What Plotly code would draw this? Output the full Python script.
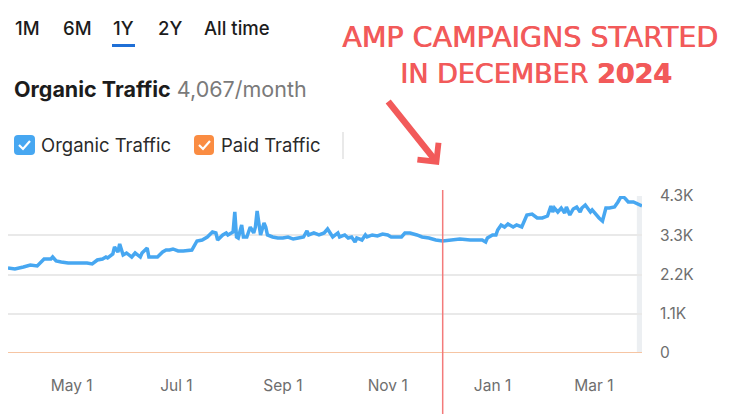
import plotly.graph_objects as go

# ---------------- data ----------------
dates = [
    "2024-03-25", "2024-03-29", "2024-04-03", "2024-04-07", "2024-04-11", "2024-04-13",
    "2024-04-15", "2024-04-17", "2024-04-19", "2024-04-20", "2024-04-22", "2024-04-25",
    "2024-04-29", "2024-05-04", "2024-05-10", "2024-05-13", "2024-05-16", "2024-05-19",
    "2024-05-21", "2024-05-22", "2024-05-25", "2024-05-26", "2024-05-28", "2024-05-29",
    "2024-05-31", "2024-06-02", "2024-06-05", "2024-06-07", "2024-06-10", "2024-06-11",
    "2024-06-14", "2024-06-15", "2024-06-20", "2024-06-23", "2024-06-25", "2024-06-27",
    "2024-06-29", "2024-07-02", "2024-07-05", "2024-07-10", "2024-07-12", "2024-07-13",
    "2024-07-16", "2024-07-19", "2024-07-22", "2024-07-24", "2024-07-25", "2024-07-28",
    "2024-07-30", "2024-07-31", "2024-08-03", "2024-08-04", "2024-08-05", "2024-08-06",
    "2024-08-08", "2024-08-09", "2024-08-11", "2024-08-13", "2024-08-15", "2024-08-16",
    "2024-08-17", "2024-08-19", "2024-08-21", "2024-08-22", "2024-08-23", "2024-08-26",
    "2024-08-29", "2024-09-01", "2024-09-04", "2024-09-07", "2024-09-10", "2024-09-13",
    "2024-09-15", "2024-09-16", "2024-09-19", "2024-09-22", "2024-09-25", "2024-09-27",
    "2024-09-30", "2024-10-03", "2024-10-04", "2024-10-07", "2024-10-09", "2024-10-11",
    "2024-10-13", "2024-10-14", "2024-10-17", "2024-10-19", "2024-10-20", "2024-10-23",
    "2024-10-26", "2024-10-29", "2024-11-01", "2024-11-03", "2024-11-06", "2024-11-09",
    "2024-11-11", "2024-11-14", "2024-11-18", "2024-11-21", "2024-11-25", "2024-11-29",
    "2024-12-03", "2024-12-07", "2024-12-13", "2024-12-19", "2024-12-23", "2024-12-26",
    "2024-12-28", "2024-12-29", "2025-01-01", "2025-01-03", "2025-01-04", "2025-01-06",
    "2025-01-08", "2025-01-10", "2025-01-13", "2025-01-15", "2025-01-18", "2025-01-20",
    "2025-01-21", "2025-01-24", "2025-01-27", "2025-01-30", "2025-02-02", "2025-02-04",
    "2025-02-05", "2025-02-06", "2025-02-08", "2025-02-10", "2025-02-12", "2025-02-13",
    "2025-02-15", "2025-02-17", "2025-02-19", "2025-02-21", "2025-02-22", "2025-02-24",
    "2025-02-27", "2025-02-28", "2025-03-03", "2025-03-04", "2025-03-06", "2025-03-08",
    "2025-03-10", "2025-03-13", "2025-03-15", "2025-03-17", "2025-03-19", "2025-03-21",
    "2025-03-24", "2025-03-26", "2025-03-29",
]
organic = [
    2328, 2301, 2356, 2410, 2383, 2465,
    2575, 2575, 2575, 2629, 2520, 2492,
    2465, 2465, 2465, 2438, 2547, 2575,
    2629, 2602, 2712, 2903, 2766, 2986,
    2684, 2739, 2629, 2739, 2629, 2739,
    2876, 2629, 2629, 2766, 2821, 2821,
    2849, 2794, 2794, 2821, 2958, 3068,
    3095, 3177, 3314, 3287, 3095, 3232,
    3287, 3232, 3314, 3862, 3177, 3150,
    3506, 3177, 3177, 3451, 3287, 3451,
    3889, 3232, 3561, 3451, 3232, 3177,
    3150, 3150, 3177, 3122, 3150, 3177,
    3342, 3232, 3287, 3232, 3287, 3396,
    3177, 3287, 3177, 3232, 3150, 3177,
    3040, 3150, 3095, 3232, 3177, 3232,
    3205, 3259, 3232, 3177, 3177, 3177,
    3287, 3287, 3232, 3177, 3150, 3095,
    3068, 3095, 3122, 3095, 3095, 3095,
    3040, 3150, 3232, 3232, 3369, 3506,
    3451, 3533, 3451, 3506, 3451, 3698,
    3780, 3807, 3698, 3698, 3752, 4026,
    3862, 3971, 3862, 3971, 3835, 3999,
    3780, 3944, 3999, 3862, 3971, 4054,
    3862, 3917, 3725, 3698, 3615, 3971,
    3971, 3999, 4136, 4300, 4245, 4136,
    4136, 4081, 4026,
]
paid = [0 for _ in dates]

x_range = ["2024-03-25", "2025-03-29"]
y_range = [0, 4300]
x_tick_vals = ["2024-05-01", "2024-07-01", "2024-09-01", "2024-11-01", "2025-01-01", "2025-03-01"]
x_tick_text = ["May 1", "Jul 1", "Sep 1", "Nov 1", "Jan 1", "Mar 1"]
y_tick_vals = [0, 1075, 2150, 3225, 4300]
y_tick_text = ["0", "1.1K", "2.2K", "3.3K", "4.3K"]
campaign_start = "2024-12-03"
partial_start = "2025-03-26"
period_buttons = ["1M", "6M", "1Y", "2Y", "All time"]

# ---------------- layout geometry (pixels) ----------------
W_FIG, H_FIG = 730, 414
L, R, T, B = 8, 642, 196, 353


def px(x):
    return (x - L) / (R - L)


def py(y):
    return (B - y) / (B - T)


def rrect(x0, y0, x1, y1, r):
    pts = [
        f"M {px(x0 + r)},{py(y0)}",
        f"L {px(x1 - r)},{py(y0)}",
        f"Q {px(x1)},{py(y0)} {px(x1)},{py(y0 + r)}",
        f"L {px(x1)},{py(y1 - r)}",
        f"Q {px(x1)},{py(y1)} {px(x1 - r)},{py(y1)}",
        f"L {px(x0 + r)},{py(y1)}",
        f"Q {px(x0)},{py(y1)} {px(x0)},{py(y1 - r)}",
        f"L {px(x0)},{py(y0 + r)}",
        f"Q {px(x0)},{py(y0)} {px(x0 + r)},{py(y0)} Z",
    ]
    return " ".join(pts)


def check(x0, y0):
    return (f"M {px(x0 + 5)},{py(y0 + 10)} L {px(x0 + 9)},{py(y0 + 14)} "
            f"L {px(x0 + 16)},{py(y0 + 6)}")


BLUE = "#47a7f1"
ORANGE = "#fa8c42"
RED = "#f25a5a"
UI_FONT = "Inter"

fig = go.Figure()
fig.add_trace(go.Scatter(x=dates, y=paid, mode="lines", name="Paid Traffic",
                         line=dict(color="#f6c5a3", width=2), cliponaxis=False,
                         hoverinfo="skip"))
fig.add_trace(go.Scatter(x=dates, y=organic, mode="lines", name="Organic Traffic",
                         line=dict(color=BLUE, width=3.5, shape="linear"),
                         cliponaxis=False))

shapes = []
shapes.append(dict(type="rect", xref="x", yref="y", x0=partial_start, x1=x_range[1],
                   y0=0, y1=y_range[1], fillcolor="#eceff2", line=dict(width=0),
                   layer="below"))
shapes.append(dict(type="line", xref="x", yref="paper", x0=campaign_start, x1=campaign_start,
                   y0=py(416), y1=py(190), line=dict(color="#f37a7a", width=1.5)))
shapes.append(dict(type="rect", xref="paper", yref="paper", x0=px(112), x1=px(135),
                   y0=py(47), y1=py(44), fillcolor="#1f6fd6", line=dict(width=0)))
shapes.append(dict(type="path", xref="paper", yref="paper", path=rrect(14, 135, 35, 155, 4),
                   fillcolor=BLUE, line=dict(width=0)))
shapes.append(dict(type="path", xref="paper", yref="paper", path=check(14, 135),
                   line=dict(color="white", width=2.2)))
shapes.append(dict(type="path", xref="paper", yref="paper", path=rrect(194, 135, 214, 155, 4),
                   fillcolor=ORANGE, line=dict(width=0)))
shapes.append(dict(type="path", xref="paper", yref="paper", path=check(194, 135),
                   line=dict(color="white", width=2.2)))
shapes.append(dict(type="line", xref="paper", yref="paper", x0=px(343), x1=px(343),
                   y0=py(159), y1=py(132), line=dict(color="#dadada", width=1.2)))

annotations = []
btn_x = [14, 62, 112, 157, 203]
for label, xx in zip(period_buttons, btn_x):
    annotations.append(dict(xref="paper", yref="paper", x=px(xx - 1), y=py(28), text=label,
                            showarrow=False, xanchor="left", yanchor="middle",
                            font=dict(family=UI_FONT, size=18.5, color="#1c1c1c", weight=500)))
annotations.append(dict(xref="paper", yref="paper", x=px(12), y=py(89),
                        text="<b>Organic Traffic</b> <span style='color:#7a7a7a'>4,067/month</span>",
                        showarrow=False, xanchor="left", yanchor="middle",
                        font=dict(family=UI_FONT, size=21.5, color="#1c1c1c")))
annotations.append(dict(xref="paper", yref="paper", x=px(39), y=py(145), text="Organic Traffic",
                        showarrow=False, xanchor="left", yanchor="middle",
                        font=dict(family=UI_FONT, size=18.5, color="#2a2a2a")))
annotations.append(dict(xref="paper", yref="paper", x=px(219), y=py(145), text="Paid Traffic",
                        showarrow=False, xanchor="left", yanchor="middle",
                        font=dict(family=UI_FONT, size=18.5, color="#2a2a2a")))
shadow = f"0.7px 0px 0px {RED}"
annotations.append(dict(xref="paper", yref="paper", x=px(530), y=py(38),
                        text="AMP CAMPAIGNS STARTED", showarrow=False,
                        xanchor="center", yanchor="middle",
                        font=dict(family="DejaVu Sans", size=28.5, color=RED, shadow=shadow)))
annotations.append(dict(xref="paper", yref="paper", x=px(536), y=py(74),
                        text="IN DECEMBER <b>2024</b>", showarrow=False,
                        xanchor="center", yanchor="middle",
                        font=dict(family="DejaVu Sans", size=27, color=RED, shadow=shadow)))
annotations.append(dict(xref="paper", yref="paper", x=px(439), y=py(165), text="",
                        showarrow=True, ax=-52, ay=-65, axref="pixel", ayref="pixel",
                        arrowhead=4, arrowsize=0.8, arrowwidth=6.5, arrowcolor=RED,
                        standoff=0, startstandoff=0))

fig.update_layout(
    width=W_FIG, height=H_FIG,
    margin=dict(l=L, r=W_FIG - R, t=T, b=H_FIG - B, pad=0),
    paper_bgcolor="white", plot_bgcolor="white",
    showlegend=False,
    shapes=shapes, annotations=annotations,
    xaxis=dict(range=x_range, type="date", showgrid=False, zeroline=False, showline=False,
               tickvals=x_tick_vals, ticktext=x_tick_text, ticks="",
               ticklabelstandoff=21,
               tickfont=dict(family=UI_FONT, size=15.5, color="#6e6e6e")),
    yaxis=dict(range=y_range, side="right", showgrid=True, gridcolor="#e9e9e9", gridwidth=1.5,
               zeroline=False, showline=False, tickvals=y_tick_vals, ticktext=y_tick_text,
               ticks="", ticklabelstandoff=17,
               tickfont=dict(family=UI_FONT, size=15.5, color="#6e6e6e")),
)

fig.write_html("out.html", config={"displayModeBar": False},
               post_script="document.body.style.margin='0';")
